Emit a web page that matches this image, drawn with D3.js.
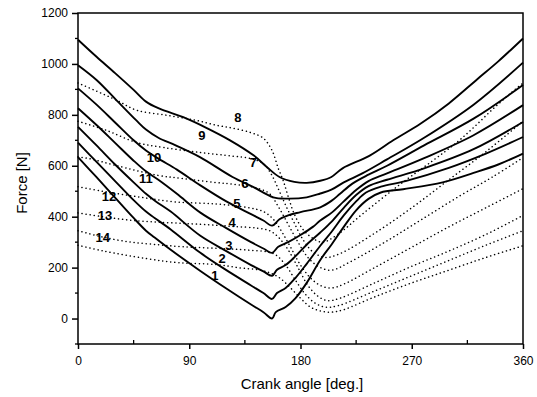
<!DOCTYPE html>
<html>

<head>
    <script src="https://d3js.org/d3.v7.min.js"></script>
    <meta charset="utf-8">
    <style>
        body { margin: 0; background: #fff; }
        text { font-family: "Liberation Sans", Arial, sans-serif; fill: #000; }
    </style>
</head>

<body>
    <div id="my_dataviz"></div>
    <script>
        // solid curves, [crank angle, force], bottom (1) to top (7)
        var solid1 = [[0,634],[15,555],[30,475],[45,395],[55,345],[62,318],[75,270],[99,187],[120,118],[140,55],[150,25],[157,0],[160,25],[168,45],[176,80],[185,140],[196,230],[205,290],[215,360],[225,425],[235,470],[245,495],[263,508],[295,535],[320,572],[340,605],[360,648]];
        var solid2 = [[0,691],[15,615],[30,540],[45,465],[55,420],[62,395],[75,350],[99,258],[120,190],[140,130],[150,100],[157,77],[161,100],[168,120],[176,160],[185,215],[196,286],[205,340],[215,405],[225,460],[233,495],[245,518],[265,540],[300,592],[330,648],[360,713]];
        var solid3 = [[0,753],[15,680],[30,605],[45,535],[55,490],[63,460],[75,420],[99,325],[120,265],[140,210],[150,185],[157,168],[161,192],[168,210],[176,245],[185,290],[196,338],[205,380],[215,435],[225,485],[235,520],[250,545],[280,590],[320,665],[360,772]];
        var solid4 = [[0,826],[15,760],[30,690],[45,620],[55,578],[65,545],[80,490],[99,416],[120,355],[140,300],[150,275],[157,258],[162,282],[170,300],[180,328],[190,360],[196,385],[205,415],[215,460],[225,505],[235,540],[250,570],[280,630],[320,720],[360,838]];
        var solid5 = [[0,904],[15,840],[30,770],[45,700],[55,660],[65,628],[80,585],[99,523],[120,460],[140,410],[150,385],[157,365],[163,390],[170,405],[180,418],[196,437],[205,462],[212,490],[222,530],[235,565],[250,600],[280,680],[320,785],[360,917]];
        var solid6 = [[0,995],[15,937],[31,858],[47,779],[55,742],[65,710],[79,680],[99,633],[125,556],[142,516],[158,476],[169,471],[185,476],[196,491],[205,506],[215,535],[230,570],[250,625],[280,710],[320,840],[360,1005]];
        var solid7 = [[0,1095],[15,1028],[30,964],[45,898],[55,852],[65,826],[87,787],[103,751],[123,700],[142,641],[153,594],[163,556],[175,537],[185,533],[196,541],[205,556],[214,590],[236,640],[255,700],[277,765],[300,845],[323,940],[340,1010],[360,1100]];

        // dotted curves, top to bottom
        var dotted1 = [[0,925],[31,858],[47,819],[71,799],[95,779],[112,759],[125,748],[140,730],[150,708],[157,660],[162,590],[166,542],[170,480],[175,410],[182,350],[190,315],[198,300],[210,330],[230,410],[260,525],[287,620],[306,690],[320,750],[335,820],[350,885],[360,925]];
        var dotted2 = [[0,775],[23,739],[47,692],[69,672],[99,652],[125,638],[139,629],[150,608],[156,570],[162,510],[168,445],[174,385],[182,310],[190,262],[200,240],[212,255],[240,335],[270,435],[300,545],[330,655],[360,775]];
        var dotted3 = [[0,635],[9,628],[31,601],[65,562],[85,550],[112,534],[125,528],[145,512],[155,490],[162,440],[170,370],[178,300],[186,240],[195,203],[205,190],[220,222],[250,305],[280,395],[310,485],[335,555],[360,632]];
        var dotted4 = [[0,518],[20,500],[50,477],[79,458],[112,450],[137,436],[150,420],[158,390],[165,340],[172,280],[180,210],[188,160],[196,130],[205,120],[215,135],[240,200],[270,280],[300,360],[330,435],[360,510]];
        var dotted5 = [[0,415],[20,400],[45,385],[99,370],[125,362],[145,355],[155,345],[162,320],[170,270],[178,200],[186,130],[194,88],[202,70],[212,80],[240,140],[270,205],[300,265],[330,330],[360,405]];
        var dotted6 = [[0,345],[20,320],[40,302],[60,292],[85,282],[120,274],[140,268],[153,262],[160,250],[168,210],[176,150],[184,95],[192,60],[200,45],[210,50],[240,108],[270,168],[300,228],[330,288],[360,345]];
        var dotted7 = [[0,288],[20,266],[56,235],[82,219],[112,212],[131,199],[145,192],[155,180],[163,160],[172,120],[180,80],[188,45],[196,30],[205,25],[215,35],[240,85],[270,140],[300,190],[330,240],[360,286]];

        // curve numbers and where they sit
        var labelText = ["1","2","3","4","5","6","7","8","9","10","11","12","13","14"];
        var labelAngle = [110.8,116.5,122,124.6,128.6,135,141.6,129.4,100.3,61.5,55,25,21.8,20];
        var labelForce = [168,235,286,377,452,530,613,790,720,633,550,479,404,318];

        var xTicks = [0, 90, 180, 270, 360];
        var yTicks = [0, 200, 400, 600, 800, 1000, 1200];

        var width = 537;
        var height = 397;

        var svg = d3.select("#my_dataviz")
            .append("svg")
            .attr("width", width)
            .attr("height", height);

        var x = d3.scaleLinear().domain([0, 360]).range([78, 523]);
        var y = d3.scaleLinear().domain([-100, 1200]).range([344, 13]);

        var line = d3.line()
            .x(function (d) { return x(d[0]); })
            .y(function (d) { return y(d[1]); })
            .curve(d3.curveCatmullRom.alpha(0.5));

        // dotted ones first
        [dotted1, dotted2, dotted3, dotted4, dotted5, dotted6, dotted7].forEach(function (s) {
            svg.append("path")
                .datum(s)
                .attr("d", line)
                .attr("fill", "none")
                .attr("stroke", "#000")
                .attr("stroke-width", 1.5)
                .attr("stroke-linecap", "round")
                .attr("stroke-dasharray", "0.1,4");
        });

        [solid1, solid2, solid3, solid4, solid5, solid6, solid7].forEach(function (s) {
            svg.append("path")
                .datum(s)
                .attr("d", line)
                .attr("fill", "none")
                .attr("stroke", "#000")
                .attr("stroke-width", 1.9)
                .attr("stroke-linejoin", "round");
        });

        // frame
        svg.append("rect")
            .attr("x", 78).attr("y", 13)
            .attr("width", 445).attr("height", 331)
            .attr("fill", "none")
            .attr("stroke", "#000")
            .attr("stroke-width", 1.5);

        // axes
        var xAxis = svg.append("g")
            .attr("transform", "translate(0,344)")
            .call(d3.axisBottom(x).tickValues(xTicks).tickSize(5).tickPadding(7).tickFormat(d3.format("d")));
        var yAxis = svg.append("g")
            .attr("transform", "translate(78,0)")
            .call(d3.axisLeft(y).tickValues(yTicks).tickSize(6).tickPadding(4).tickFormat(d3.format("d")));
        [xAxis, yAxis].forEach(function (a) {
            a.select(".domain").remove();
            a.selectAll("line").attr("stroke", "#000").attr("stroke-width", 1.5);
            a.selectAll("text").style("font-size", "12px").style("font-family", "'Liberation Sans', Arial, sans-serif");
        });

        // minor ticks
        svg.append("g").selectAll("line")
            .data([45, 135, 225, 315])
            .enter().append("line")
            .attr("x1", function (d) { return x(d); })
            .attr("x2", function (d) { return x(d); })
            .attr("y1", 344).attr("y2", 340)
            .attr("stroke", "#000").attr("stroke-width", 1.3);
        svg.append("g").selectAll("line")
            .data([-100, 100, 300, 500, 700, 900, 1100])
            .enter().append("line")
            .attr("x1", 75).attr("x2", 78)
            .attr("y1", function (d) { return y(d); })
            .attr("y2", function (d) { return y(d); })
            .attr("stroke", "#000").attr("stroke-width", 1.3);

        // axis titles
        svg.append("text")
            .attr("x", 302).attr("y", 389)
            .attr("text-anchor", "middle")
            .style("font-size", "15px")
            .text("Crank angle [deg.]");
        svg.append("text")
            .attr("transform", "translate(27,183) rotate(-90)")
            .attr("text-anchor", "middle")
            .style("font-size", "15px")
            .text("Force [N]");

        // curve numbers
        svg.append("g").selectAll("text")
            .data(labelText)
            .enter().append("text")
            .attr("x", function (d, i) { return x(labelAngle[i]); })
            .attr("y", function (d, i) { return y(labelForce[i]); })
            .attr("dy", "0.36em")
            .attr("text-anchor", "middle")
            .style("font-size", "13px")
            .style("font-weight", "bold")
            .text(function (d) { return d; });
    </script>
</body>

</html>
